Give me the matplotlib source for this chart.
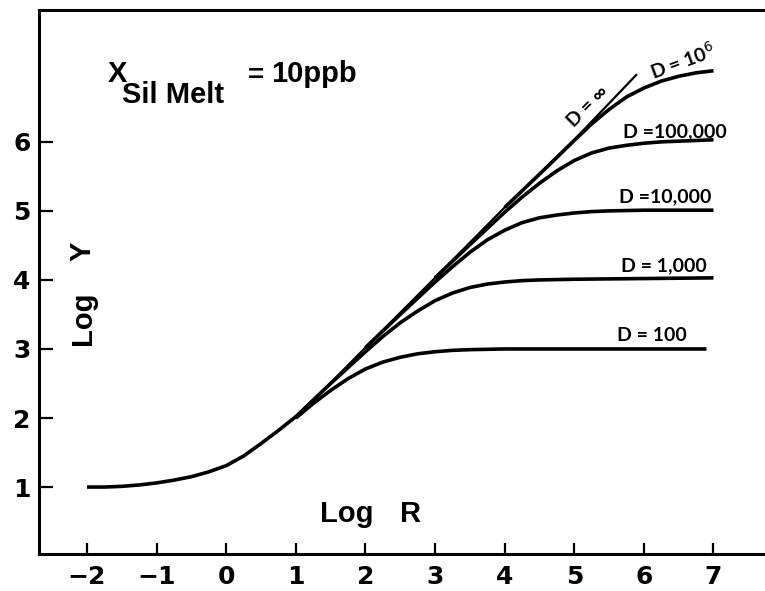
import matplotlib
matplotlib.use("Agg")
import matplotlib.pyplot as plt

# trunk shared by all curves
r_trunk = [-2.0, -1.75, -1.5, -1.25, -1.0, -0.75, -0.5, -0.25, 0.0, 0.25, 0.5, 0.75, 1.0]
y_trunk = [1.00, 1.00, 1.01, 1.03, 1.06, 1.10, 1.15, 1.22, 1.31, 1.45, 1.63, 1.82, 2.02]

# D = infinity : straight line continuing the trunk
r_inf = [1.0, 1.5, 2.0, 3.0, 4.0, 5.0, 5.9]
y_inf = [2.02, 2.51, 3.02, 4.03, 5.05, 6.03, 6.98]

# finite D curves, each leaving the D = infinity line
r_d100 = [1.0, 1.25, 1.5, 1.75, 2.0, 2.25, 2.5, 2.75, 3.0, 3.25, 3.5, 4.0, 5.0, 6.0, 6.9]
y_d100 = [2.00, 2.21, 2.40, 2.57, 2.71, 2.81, 2.88, 2.93, 2.96, 2.98, 2.99, 3.00, 3.00, 3.00, 3.00]

r_d1000 = [1.0, 1.5, 2.0, 2.25, 2.5, 2.75, 3.0, 3.25, 3.5, 3.75, 4.0, 4.25, 4.5, 5.0, 6.0, 7.0]
y_d1000 = [2.02, 2.50, 2.96, 3.18, 3.38, 3.55, 3.70, 3.81, 3.89, 3.94, 3.97, 3.99, 4.00, 4.01, 4.02, 4.03]

r_d1e4 = [2.0, 2.5, 3.0, 3.25, 3.5, 3.75, 4.0, 4.25, 4.5, 4.75, 5.0, 5.25, 5.5, 6.0, 7.0]
y_d1e4 = [3.02, 3.50, 3.97, 4.19, 4.40, 4.58, 4.72, 4.83, 4.90, 4.94, 4.97, 4.99, 5.00, 5.01, 5.01]

r_d1e5 = [3.0, 3.5, 4.0, 4.25, 4.5, 4.75, 5.0, 5.25, 5.5, 5.75, 6.0, 6.25, 6.5, 7.0]
y_d1e5 = [4.03, 4.51, 4.98, 5.20, 5.40, 5.58, 5.73, 5.84, 5.91, 5.95, 5.98, 6.00, 6.01, 6.03]

r_d1e6 = [4.0, 4.5, 5.0, 5.25, 5.5, 5.75, 6.0, 6.25, 6.5, 6.75, 7.0]
y_d1e6 = [5.05, 5.53, 6.02, 6.26, 6.47, 6.65, 6.78, 6.88, 6.95, 7.00, 7.03]

xticks = [-2, -1, 0, 1, 2, 3, 4, 5, 6, 7]
yticks = [1, 2, 3, 4, 5, 6]

fig = plt.figure(figsize=(7.65, 5.91), dpi=100)
ax = fig.add_axes([39 / 765, 37 / 591, 726 / 765, 544 / 591])

lw = 2.6
ax.plot(r_trunk, y_trunk, 'k-', lw=lw, solid_capstyle='butt', solid_joinstyle='round')
ax.plot(r_inf, y_inf, 'k-', lw=1.6, solid_capstyle='butt')
for r, y in [(r_d100, y_d100), (r_d1000, y_d1000), (r_d1e4, y_d1e4),
             (r_d1e5, y_d1e5), (r_d1e6, y_d1e6)]:
    ax.plot(r, y, 'k-', lw=lw, solid_capstyle='butt', solid_joinstyle='round')

ax.set_xlim(-2.69, 7.74)
ax.set_ylim(0.03, 7.91)
ax.spines['right'].set_visible(False)
for s in ['left', 'bottom', 'top']:
    ax.spines[s].set_linewidth(2.2)

ax.set_xticks(xticks)
ax.set_yticks(yticks)
ax.set_xticklabels([str(t).replace('-', '\u2212') for t in xticks])
ax.tick_params(axis='x', direction='in', length=8, width=1.6, pad=8)
ax.tick_params(axis='y', direction='in', length=10, width=1.6, pad=6)
for lab in ax.get_xticklabels() + ax.get_yticklabels():
    lab.set_fontfamily('DejaVu Sans')
    lab.set_fontweight('bold')
    lab.set_fontsize(18)

hfont = dict(family='Liberation Sans', weight='bold', color='k')
ax.text(-2.06, 3.45, 'Log', rotation=90, ha='center', va='center', fontsize=21, **hfont)
ax.text(-2.06, 4.41, 'Y', rotation=90, ha='center', va='center', fontsize=21, **hfont)
ax.text(1.35, 0.49, 'Log', ha='left', va='baseline', fontsize=21, **hfont)
ax.text(2.50, 0.49, 'R', ha='left', va='baseline', fontsize=21, **hfont)

ax.text(-1.70, 6.87, 'X', ha='left', va='baseline', fontsize=21, **hfont)
ax.text(-1.50, 6.57, 'Sil Melt', ha='left', va='baseline', fontsize=21, **hfont)
ax.text(0.42, 6.96, '=', ha='center', va='center', fontsize=20, **hfont)
ax.text(0.64, 6.87, '10ppb', ha='left', va='baseline', fontsize=21, **hfont)

dfont = dict(family='Lato', weight='bold', color='k', fontsize=14)
ax.text(5.64, 5.12, 'D =10,000', ha='left', va='baseline', **dfont)
ax.text(5.67, 4.12, 'D = 1,000', ha='left', va='baseline', **dfont)
ax.text(5.61, 3.12, 'D = 100', ha='left', va='baseline', **dfont)
ax.text(5.70, 6.07, 'D =100,000', ha='left', va='baseline', **dfont)
ax.text(6.55, 7.18, 'D = 10$^{6}$', ha='center', va='center', rotation=20, **dfont)
ax.text(5.20, 6.52, 'D = \u221e', ha='center', va='center', rotation=45, **dfont)

fig.savefig('out.png', dpi=100)
